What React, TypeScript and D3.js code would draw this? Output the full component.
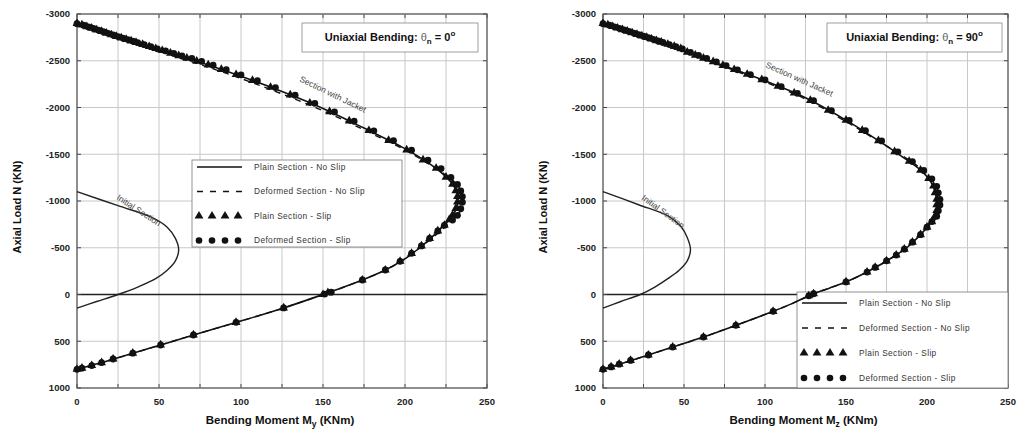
import * as d3 from "d3";

// axis ticks
const nTicks = [-3000, -2500, -2000, -1500, -1000, -500, 0, 500, 1000];
const mTicks = [0, 50, 100, 150, 200, 250];
const mGrid = [0, 25, 50, 75, 100, 125, 150, 175, 200, 225, 250];
const legendLabels = ["Plain Section - No Slip", "Deformed Section - No Slip", "Plain Section - Slip", "Deformed Section - Slip"];

// theta_n = 0 : [M (kNm), N (kN)]
const leftPlain = [[0,-2900],[25,-2755],[50,-2620],[75,-2485],[100,-2335],[125,-2170],[150,-1990],[175,-1780],[200,-1560],[214,-1410],[223,-1290],[229,-1180],[232,-1070],[232,-960],[230,-870],[226,-780],[218,-640],[209,-500],[199,-370],[188,-262],[174,-155],[162,-75],[150,0],[126,144],[98,294],[71,433],[50,545],[30,650],[15,728],[0,800]];
const leftDeformed = [[0,-2900],[25,-2745],[50,-2600],[75,-2460],[100,-2310],[125,-2145],[150,-1965],[175,-1760],[200,-1545],[215,-1390],[225,-1275],[232,-1170],[235,-1070],[235,-960],[233,-870],[228,-780],[219,-640],[209,-500],[199,-370],[188,-262],[174,-155],[162,-75],[150,0],[126,144],[98,294],[71,433],[50,545],[30,650],[15,728],[0,800]];
const leftTri = [[0,-2900],[3,-2883],[6,-2865],[9,-2848],[12,-2830],[15,-2813],[18,-2796],[21,-2778],[24,-2761],[27,-2744],[30,-2728],[33,-2712],[36,-2696],[40,-2674],[44,-2652],[48,-2631],[52,-2609],[57,-2582],[62,-2555],[67,-2528],[73,-2496],[80,-2455],[88,-2407],[97,-2353],[107,-2289],[118,-2216],[130,-2134],[142,-2048],[154,-1956],[166,-1856],[178,-1754],[190,-1648],[201,-1546],[211,-1440],[219,-1350],[225,-1255],[229,-1180],[231,-1110],[232,-1050],[232,-990],[231,-920],[229,-850],[227,-800],[224,-740],[220,-680],[215,-600],[210,-520],[204,-440],[197,-355],[188,-262],[174,-155],[153,-20],[150,0],[126,144],[97,298],[71,433],[51,540],[34,628],[22,690],[15,728],[9,760],[3,788],[0,800]];
const leftCirc = [[0,-2896],[4,-2880],[7,-2862],[10,-2845],[13,-2828],[16,-2810],[19,-2793],[22,-2776],[25,-2759],[28,-2742],[31,-2726],[34,-2710],[37,-2693],[41,-2672],[45,-2650],[49,-2628],[54,-2606],[59,-2579],[64,-2552],[70,-2525],[76,-2493],[83,-2452],[91,-2404],[100,-2350],[110,-2286],[121,-2213],[133,-2131],[145,-2045],[157,-1953],[169,-1853],[181,-1751],[193,-1645],[204,-1543],[214,-1437],[222,-1347],[228,-1252],[232,-1177],[234,-1107],[235,-1047],[235,-987],[234,-917],[232,-847],[229,-797],[224,-740],[220,-680],[215,-600],[210,-520],[204,-440],[197,-355],[188,-262],[174,-155],[155,-25],[151,-5],[126,144],[97,298],[71,433],[51,540],[34,628],[22,690],[15,728],[9,760],[3,788],[0,800]];
const leftInitial = [[0,-1100],[25,-950],[45,-830],[55,-720],[60,-600],[62,-480],[60,-360],[55,-260],[48,-170],[37,-80],[25,0],[12,75],[0,145]];

// theta_n = 90
const rightPlain = [[0,-2900],[25,-2760],[50,-2605],[75,-2445],[100,-2285],[125,-2105],[150,-1865],[170,-1645],[185,-1470],[196,-1330],[202,-1215],[205,-1100],[206,-1000],[206,-900],[205,-830],[202,-760],[196,-640],[188,-508],[181,-422],[163,-240],[150,-134],[140,-70],[129,0],[117,95],[105,180],[82,330],[62,455],[43,562],[28,647],[14,725],[0,800]];
const rightDeformed = [[0,-2900],[25,-2755],[50,-2598],[75,-2435],[100,-2272],[125,-2090],[150,-1850],[171,-1630],[187,-1460],[198,-1320],[204,-1210],[207,-1100],[208,-1000],[207,-900],[206,-830],[203,-760],[196,-640],[188,-508],[181,-422],[163,-240],[150,-134],[140,-70],[129,0],[117,95],[105,180],[82,330],[62,455],[43,562],[28,647],[14,725],[0,800]];
const rightTri = [[0,-2900],[3,-2883],[6,-2866],[9,-2850],[12,-2833],[15,-2816],[18,-2799],[21,-2782],[24,-2766],[27,-2749],[30,-2732],[33,-2715],[36,-2698],[40,-2676],[44,-2653],[48,-2630],[52,-2592],[57,-2560],[62,-2528],[68,-2490],[74,-2451],[81,-2406],[89,-2355],[98,-2298],[108,-2227],[118,-2155],[128,-2076],[139,-1970],[150,-1865],[160,-1755],[170,-1645],[180,-1528],[189,-1425],[196,-1330],[201,-1240],[204,-1160],[205,-1090],[206,-1020],[206,-960],[206,-900],[205,-840],[203,-780],[200,-720],[196,-640],[191,-560],[186,-485],[181,-422],[175,-360],[168,-290],[163,-240],[150,-134],[130,-8],[127,14],[105,180],[82,330],[62,455],[43,562],[28,647],[17,705],[10,745],[5,775],[0,800]];
const rightCirc = [[0,-2896],[4,-2880],[7,-2863],[10,-2847],[13,-2830],[16,-2813],[19,-2796],[22,-2779],[25,-2763],[28,-2746],[31,-2729],[34,-2712],[37,-2695],[41,-2673],[45,-2650],[49,-2627],[54,-2589],[59,-2557],[64,-2525],[70,-2487],[76,-2448],[83,-2403],[91,-2352],[100,-2295],[110,-2224],[120,-2152],[130,-2073],[141,-1967],[152,-1862],[162,-1752],[172,-1642],[182,-1525],[191,-1422],[198,-1327],[203,-1237],[206,-1157],[207,-1087],[208,-1017],[208,-957],[207,-897],[206,-837],[203,-780],[200,-720],[196,-640],[191,-560],[186,-485],[181,-422],[175,-360],[168,-290],[163,-240],[150,-134],[130,-8],[127,14],[105,180],[82,330],[62,455],[43,562],[28,647],[17,705],[10,745],[5,775],[0,800]];
const rightInitial = [[0,-1100],[22,-960],[40,-840],[48,-730],[52,-610],[54,-480],[52,-360],[47,-260],[40,-170],[32,-80],[23,0],[11,75],[0,145]];

const TOP = 14;
const BOTTOM = 388;
const FONT = "Liberation Sans, Arial, sans-serif";

function Panel(p: any) {
  const x = d3.scaleLinear().domain([0, 250]).range([p.left, p.right]);
  const y = d3.scaleLinear().domain([-3000, 1000]).range([TOP, BOTTOM]);
  const line = d3.line<number[]>().x(d => x(d[0])).y(d => y(d[1])).curve(d3.curveCatmullRom);
  const tri = d3.symbol(d3.symbolTriangle, 34)();
  const lg = p.legend;
  const rows = [0, 1, 2, 3].map(i => lg.y + lg.top + i * lg.step);

  return (
    <g fontFamily={FONT}>
      <rect x={p.left} y={TOP} width={p.right - p.left} height={BOTTOM - TOP} fill="#fff" />
      {mGrid.map(m => (
        <g key={"v" + m}>
          <line x1={x(m)} x2={x(m)} y1={TOP} y2={BOTTOM} stroke="#c8c8c8" strokeWidth={1} />
          <line x1={x(m)} x2={x(m)} y1={BOTTOM} y2={BOTTOM - 4} stroke="#444" />
          <line x1={x(m)} x2={x(m)} y1={TOP} y2={TOP + 4} stroke="#444" />
        </g>
      ))}
      {nTicks.map(n => (
        <g key={"h" + n}>
          <line x1={p.left} x2={p.right} y1={y(n)} y2={y(n)} stroke={n === 0 ? "#222" : "#c8c8c8"} strokeWidth={n === 0 ? 1.3 : 1} />
          <line x1={p.left} x2={p.left + 4} y1={y(n)} y2={y(n)} stroke="#444" />
          <line x1={p.right} x2={p.right - 4} y1={y(n)} y2={y(n)} stroke="#444" />
          <text x={p.left - 7} y={y(n)} dy="0.35em" textAnchor="end" fontSize={9.5} fontWeight="bold" fill="#222">{n}</text>
        </g>
      ))}
      {mTicks.map(m => (
        <text key={"t" + m} x={x(m)} y={405} textAnchor="middle" fontSize={9.5} fontWeight="bold" fill="#222">{m}</text>
      ))}
      <rect x={p.left} y={TOP} width={p.right - p.left} height={BOTTOM - TOP} fill="none" stroke="#555" strokeWidth={1.2} />

      {/* legend box sits under the curves */}
      <rect x={lg.x} y={lg.y} width={lg.w} height={lg.h} fill="#fff" stroke="#777" strokeWidth={0.8} />
      <line x1={lg.x + 5} x2={lg.x + 50} y1={rows[0]} y2={rows[0]} stroke="#111" strokeWidth={1.3} />
      <line x1={lg.x + 5} x2={lg.x + 50} y1={rows[1]} y2={rows[1]} stroke="#111" strokeWidth={1.3} strokeDasharray="6,7" />
      {[0, 1, 2, 3].map(i => (
        <path key={"lt" + i} d={tri!} transform={`translate(${lg.x + 7 + i * 13},${rows[2]})`} fill="#111" />
      ))}
      {[0, 1, 2, 3].map(i => (
        <circle key={"lc" + i} cx={lg.x + 7 + i * 13} cy={rows[3]} r={3.3} fill="#111" />
      ))}
      {legendLabels.map((t, i) => (
        <text key={t} x={lg.x + 62} y={rows[i]} dy="0.35em" fontSize={8.3} fill="#333" letterSpacing={0.4}>{t}</text>
      ))}

      <path d={line(p.initial)!} fill="none" stroke="#222" strokeWidth={1.4} />
      <path d={line(p.plain)!} fill="none" stroke="#111" strokeWidth={1.6} />
      <path d={line(p.deformed)!} fill="none" stroke="#111" strokeWidth={1.4} strokeDasharray="6,5" />
      {p.tri.map((d: number[], i: number) => (
        <path key={"tr" + i} d={tri!} transform={`translate(${x(d[0])},${y(d[1])})`} fill="#111" />
      ))}
      {p.circ.map((d: number[], i: number) => (
        <circle key={"ci" + i} cx={x(d[0])} cy={y(d[1])} r={3.4} fill="#111" />
      ))}

      <text transform={`translate(${p.jacket[0]},${p.jacket[1]}) rotate(${p.jacket[2]})`} fontSize={8.5} fill="#444">Section with Jacket</text>
      <text transform={`translate(${p.init[0]},${p.init[1]}) rotate(${p.init[2]})`} fontSize={8.5} fill="#444">Initial Section</text>

      <rect x={p.title[0]} y={23} width={p.title[1]} height={29} fill="#fff" stroke="#888" strokeWidth={0.8} />
      <text x={p.title[0] + p.title[1] / 2} y={41} textAnchor="middle" fontSize={11} fontWeight="bold" fill="#111">
        Uniaxial Bending:<tspan fontWeight="normal" fill="#666"> θ</tspan>
        <tspan fontSize={8} dy={3}>n</tspan>
        <tspan dy={-3}>{" = " + p.angle}</tspan>
        <tspan fontSize={8} dy={-5}>o</tspan>
      </text>

      <text transform={`translate(${p.left - 56},${(TOP + BOTTOM) / 2 + 6}) rotate(-90)`} textAnchor="middle" fontSize={11} fontWeight="bold" fill="#111">
        {"Axial Load  N  (KN)"}
      </text>
      <text x={(p.left + p.right) / 2 - 2} y={424} textAnchor="middle" fontSize={11.5} fontWeight="bold" fill="#111">
        Bending Moment M<tspan fontSize={8.5} dy={3}>{p.sub}</tspan><tspan dy={-3}> (KNm)</tspan>
      </text>
    </g>
  );
}

export default function App() {
  return (
    <svg width={1027} height={430} style={{ position: "absolute", left: 0, top: 0, background: "#fff" }}>
      <rect width={1027} height={430} fill="#fff" />
      <Panel left={77} right={487} plain={leftPlain} deformed={leftDeformed} tri={leftTri} circ={leftCirc}
        initial={leftInitial} angle="0" sub="y" title={[302, 176]}
        legend={{ x: 192, y: 160, w: 210, h: 87, top: 7, step: 24.5 }}
        jacket={[299, 81, 26]} init={[116, 199, 33]} />
      <Panel left={603} right={1008} plain={rightPlain} deformed={rightDeformed} tri={rightTri} circ={rightCirc}
        initial={rightInitial} angle="90" sub="z" title={[827, 175]}
        legend={{ x: 797, y: 292, w: 211, h: 96, top: 11, step: 25 }}
        jacket={[765, 67, 24]} init={[641, 199, 36]} />
    </svg>
  );
}
